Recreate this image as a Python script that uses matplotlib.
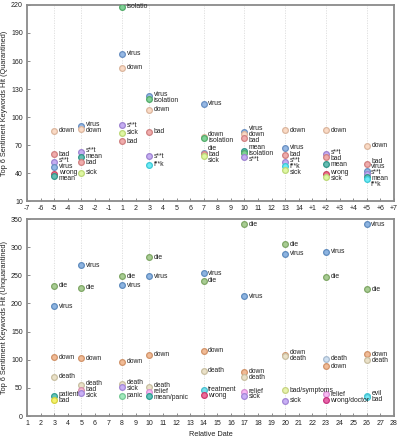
import matplotlib
matplotlib.use('Agg')
import matplotlib.pyplot as plt
import matplotlib.colors as mcolors
import numpy as np

plt.rcParams['font.family'] = ['Liberation Sans', 'DejaVu Sans']

# ---------------- data ----------------
dates = [3, 5, 8, 10, 14, 17, 20, 23, 26]
top_ticklabels = ['-7', '-6', '-5', '-4', '-3', '-2', '-1', '1', '2', '3', '4', '5', '6', '7',
                  '8', '9', '10', '11', '12', '13', '14', '+1', '+2', '+3', '+4', '+5', '+6', '+7']
bottom_ticklabels = [str(i) for i in range(1, 29)]

q_words = [
    ['down', 'bad', 's**t', 'virus', 'wrong', 'mean'],
    ['virus', 'down', 's**t', 'mean', 'bad', 'sick'],
    ['isolatio', 'virus', 'down', 's**t', 'sick', 'bad'],
    ['virus', 'isolation', 'down', 'bad', 's**t', 'f**k'],
    ['virus', 'down', 'isolation', 'die', 'bad', 'sick'],
    ['virus', 'down', 'bad', 'mean', 'isolation', 's**t'],
    ['down', 'virus', 'bad', 's**t', 'f**k', 'sick'],
    ['down', 's**t', 'bad', 'mean', 'wrong', 'sick'],
    ['down', 'bad', 'virus', 's**t', 'mean', 'f**k'],
]
q_hits = [
    [85, 60, 52, 46, 39, 37],
    [90, 87, 63, 57, 52, 40],
    [218, 168, 153, 91, 83, 74],
    [123, 119, 108, 84, 58, 49],
    [114, 79, 78, 61, 60, 58],
    [84, 82, 78, 64, 61, 57],
    [86, 67, 59, 52, 47, 43],
    [86, 60, 57, 50, 39, 36],
    [69, 50, 42, 39, 36, 34],
]
u_words = [
    ['die', 'virus', 'down', 'death', 'patient', 'bad'],
    ['virus', 'die', 'down', 'death', 'bad', 'sick'],
    ['die', 'virus', 'down', 'death', 'sick', 'panic'],
    ['die', 'virus', 'down', 'death', 'relief', 'mean/panic'],
    ['virus', 'die', 'down', 'death', 'treatment', 'wrong'],
    ['die', 'virus', 'down', 'death', 'relief', 'sick'],
    ['die', 'virus', 'down', 'death', 'bad/symptoms', 'sick'],
    ['virus', 'die', 'death', 'down', 'relief', 'wrong/doctor'],
    ['virus', 'die', 'down', 'death', 'evil', 'bad'],
]
u_hits = [
    [231, 195, 104, 70, 36, 29],
    [268, 228, 103, 55, 47, 41],
    [248, 232, 96, 56, 51, 36],
    [282, 248, 109, 52, 42, 36],
    [254, 240, 116, 80, 47, 38],
    [341, 213, 78, 70, 43, 35],
    [305, 288, 108, 106, 46, 27],
    [292, 247, 102, 88, 39, 28],
    [341, 225, 110, 99, 35, 33],
]

# ---------------- styles ----------------
top_colors = {
    'virus': '#78a4dc', 'down': '#f9cfb4', 'isolatio': '#5ec47a', 'isolation': '#5ec47a',
    'bad': '#ec9494', 's**t': '#b496ee', 'sick': '#d6f588', 'mean': '#3aaa9c',
    'wrong': '#e8506e', 'f**k': '#44e4f2', 'die': '#94b2e0',
}
bot_colors = {
    'die': '#90be74', 'virus': '#6d9fd8', 'down': '#eda878', 'death': '#e4d9b8',
    'patient': '#3cb4a4', 'bad': '#f2ee44', 'sick': '#b898f2', 'panic': '#86e4aa',
    'relief': '#f6a4f0', 'mean/panic': '#34b2a6', 'treatment': '#52d8ea', 'wrong': '#e8447e',
    'bad/symptoms': '#e2f094', 'wrong/doctor': '#e23a92', 'evil': '#52e2f2',
}
bot_override = {(5, 'bad'): '#f4a4c4', (23, 'death'): '#c0d6ec', (26, 'bad'): '#52e2f2'}

W, H, DPI = 4.0, 4.4, 100
fig = plt.figure(figsize=(W, H), dpi=DPI)
ax_top = fig.add_axes([27 / 400, 1 - 201 / 440, 367 / 400, 196 / 440])
ax_bot = fig.add_axes([27 / 400, 1 - 416 / 440, 367 / 400, 197 / 440])

LABEL_FS = 4.9
GAP_PX = 5.9


def spread(targets, gap):
    # targets: increasing downward pixel coords; returns label positions with min gap
    clusters = [[i] for i in range(len(targets))]

    def pos(cl):
        return np.mean([targets[k] - j * gap for j, k in enumerate(cl)])

    changed = True
    while changed:
        changed = False
        for i in range(len(clusters) - 1):
            a, b = clusters[i], clusters[i + 1]
            end_a = pos(a) + (len(a) - 1) * gap
            if pos(b) - end_a < gap - 1e-9:
                clusters[i] = a + b
                del clusters[i + 1]
                changed = True
                break
    out = [0.0] * len(targets)
    for cl in clusters:
        c = pos(cl)
        for j, k in enumerate(cl):
            out[k] = c + j * gap
    return out


def draw_panel(ax, words, hits, cmap, override, ylim, yticks, xticklabels, ylabel):
    ax.set_xlim(1, 28)
    ax.set_ylim(*ylim)
    for d in dates:
        ax.axvline(d, color='#dcdcdc', lw=0.6, ls=(0, (1.5, 1.5)), zorder=0)
    ax_h_px = ax.get_position().height * H * DPI
    px_per_unit = ax_h_px / (ylim[1] - ylim[0])
    for d, ws, hs in zip(dates, words, hits):
        order = np.argsort(-np.array(hs), kind='stable')
        for k in order:
            w, h = ws[k], hs[k]
            base = override.get((d, w), cmap[w])
            rgb = np.array(mcolors.to_rgb(base))
            face = rgb * 0.78 + 0.22
            edge = rgb * 0.88
            ax.scatter([d], [h], s=17, facecolor=[face], edgecolor=[edge],
                       linewidths=0.9, zorder=3)
        tpx = [-(hs[k]) * px_per_unit for k in order]
        lpx = spread(tpx, GAP_PX)
        for j, k in enumerate(order):
            dy_pt = -(lpx[j] - tpx[j]) * 72 / DPI
            ax.annotate(ws[k], (d, hs[k]), xytext=(3.2, dy_pt), textcoords='offset points',
                        ha='left', va='center', fontsize=LABEL_FS, color='#222222', zorder=4)
    ax.set_xticks(range(1, 29))
    ax.set_xticklabels(xticklabels)
    ax.set_yticks(yticks)
    ax.tick_params(direction='in', length=2.5, width=0.6, color='#777777',
                   labelsize=5.0, pad=3, labelcolor='#222222')
    for s in ax.spines.values():
        s.set_color('#8a8a8a')
        s.set_linewidth(1.3)
    ax.set_ylabel(ylabel, fontsize=5.3, color='#222222')
    ax.yaxis.set_label_coords(-0.052, 0.5)


draw_panel(ax_top, q_words, q_hits, top_colors, {}, (10, 220), range(10, 221, 30),
           top_ticklabels, 'Top 6 Sentiment Keywords Hit (Quarantined)')
draw_panel(ax_bot, u_words, u_hits, bot_colors, bot_override, (0, 350), range(0, 351, 50),
           bottom_ticklabels, 'Top 6 Sentiment Keywords Hit (Unquarantined)')
ax_bot.set_xlabel('Relative Date', fontsize=5.3, color='#222222', labelpad=3)

fig.savefig('out.png', dpi=DPI)
